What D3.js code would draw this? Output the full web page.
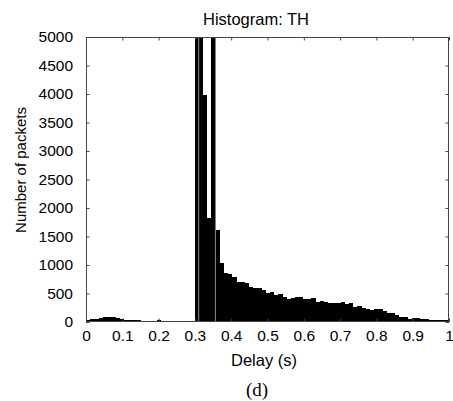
<!DOCTYPE html>
<html>
<head>
<meta charset="utf-8">
<script src="https://cdn.jsdelivr.net/npm/d3@7"></script>
<style>
  html, body { margin: 0; padding: 0; background: #fff; }
  svg { display: block; }
  text { font-family: "Liberation Sans", Arial, sans-serif; fill: #000; }
</style>
</head>
<body>
<div id="chart"></div>
<script>
// ---- data ----
const binStart = 0;
const binWidth = 0.0115;
const counts = [
  30, 45, 55, 70, 82, 88, 90, 75, 58, 35,
  30, 30, 28, 25, 20, 15, 25, 40, 10, 10,
  12, 25, 8, 5, 5, 3, 9000, 7000, 3980, 1820,
  5600, 1610, 1030, 865, 840, 784, 707, 705, 679, 609,
  605, 591, 561, 503, 526, 479, 491, 433, 398, 426,
  438, 433, 398, 398, 416, 356, 368, 345, 333, 338,
  338, 345, 321, 338, 268, 275, 251, 228, 210, 228,
  222, 188, 153, 163, 123, 93, 93, 58, 75, 75,
  53, 55, 35, 40, 40, 30, 30
];
const xTicks = [0, 0.1, 0.2, 0.3, 0.4, 0.5, 0.6, 0.7, 0.8, 0.9, 1];
const xTickLabels = ["0", "0.1", "0.2", "0.3", "0.4", "0.5", "0.6", "0.7", "0.8", "0.9", "1"];
const yTicks = [0, 500, 1000, 1500, 2000, 2500, 3000, 3500, 4000, 4500, 5000];
const seamBins = [27, 31];
const titleText = "Histogram: TH";
const xLabelText = "Delay (s)";
const yLabelText = "Number of packets";
const captionText = "(d)";

// ---- layout ----
const W = 453, H = 401;
const m = { left: 86, right: 4, top: 37, bottom: 79 };
const pw = W - m.left - m.right, ph = H - m.top - m.bottom;

const svg = d3.select("#chart").append("svg").attr("width", W).attr("height", H);
svg.append("rect").attr("width", W).attr("height", H).attr("fill", "#fff");

const x = d3.scaleLinear().domain([0, 1]).range([m.left, m.left + pw]);
const y = d3.scaleLinear().domain([0, 5000]).range([m.top + ph, m.top]);

svg.append("clipPath").attr("id", "clip")
  .append("rect").attr("x", m.left).attr("y", m.top).attr("width", pw).attr("height", ph);

const bins = counts.map((c, i) => ({ lo: binStart + i * binWidth, hi: binStart + (i + 1) * binWidth, c }));

const g = svg.append("g").attr("clip-path", "url(#clip)");
g.selectAll("rect.bar").data(bins).join("rect")
  .attr("class", "bar")
  .attr("x", d => x(d.lo))
  .attr("width", d => x(d.hi) - x(d.lo) + 0.3)
  .attr("y", d => y(d.c))
  .attr("height", d => y(0) - y(d.c))
  .attr("fill", "#000")
  .attr("shape-rendering", "crispEdges");

// faint seams between adjacent tall bars
g.selectAll("line.seam").data(seamBins).join("line")
  .attr("class", "seam")
  .attr("x1", i => x(bins[i].lo)).attr("x2", i => x(bins[i].lo))
  .attr("y1", y(0))
  .attr("y2", i => y(Math.max(bins[i].c, bins[i - 1].c)))
  .attr("stroke", "#8a8a8a").attr("stroke-width", 1);

// ---- axes ----
const axisColor = "#444";
const tickLen = 3.5;
function styleAxis(sel, hideLabels) {
  sel.select(".domain").remove();
  sel.selectAll(".tick line").attr("stroke", axisColor);
  sel.selectAll(".tick text")
    .style("font-family", '"Liberation Sans", Arial, sans-serif')
    .style("font-size", "15.5px").attr("fill", "#000");
  if (hideLabels) sel.selectAll(".tick text").remove();
}

svg.append("g").attr("transform", `translate(0,${y(0)})`)
  .call(d3.axisBottom(x).tickValues(xTicks).tickFormat((d, i) => xTickLabels[i])
    .tickSizeInner(-tickLen).tickSizeOuter(0).tickPadding(8))
  .call(s => styleAxis(s, false));
svg.append("g").attr("transform", `translate(0,${y(5000)})`)
  .call(d3.axisTop(x).tickValues(xTicks).tickSizeInner(-tickLen).tickSizeOuter(0))
  .call(s => styleAxis(s, true));
svg.append("g").attr("transform", `translate(${x(0)},0)`)
  .call(d3.axisLeft(y).tickValues(yTicks).tickFormat(d3.format("d"))
    .tickSizeInner(-tickLen).tickSizeOuter(0).tickPadding(13))
  .call(s => styleAxis(s, false));
svg.append("g").attr("transform", `translate(${x(1)},0)`)
  .call(d3.axisRight(y).tickValues(yTicks).tickSizeInner(-tickLen).tickSizeOuter(0))
  .call(s => styleAxis(s, true));

svg.append("rect")
  .attr("x", x(0) + 0.5).attr("y", y(5000) + 0.5)
  .attr("width", x(1) - x(0) - 1).attr("height", y(0) - y(5000) - 1)
  .attr("fill", "none").attr("stroke", axisColor).attr("stroke-width", 1);

// ---- texts ----
svg.append("text").attr("x", 256).attr("y", 25).attr("text-anchor", "middle")
  .style("font-size", "16.5px").text(titleText);
svg.append("text").attr("x", 264).attr("y", 366).attr("text-anchor", "middle")
  .style("font-size", "16.5px").text(xLabelText);
svg.append("text").attr("transform", "translate(26,170) rotate(-90)").attr("text-anchor", "middle")
  .style("font-size", "15px").text(yLabelText);
svg.append("text").attr("x", 257).attr("y", 396).attr("text-anchor", "middle")
  .style("font-family", '"Liberation Serif", "Times New Roman", serif')
  .style("font-size", "19px").text(captionText);
</script>
</body>
</html>
